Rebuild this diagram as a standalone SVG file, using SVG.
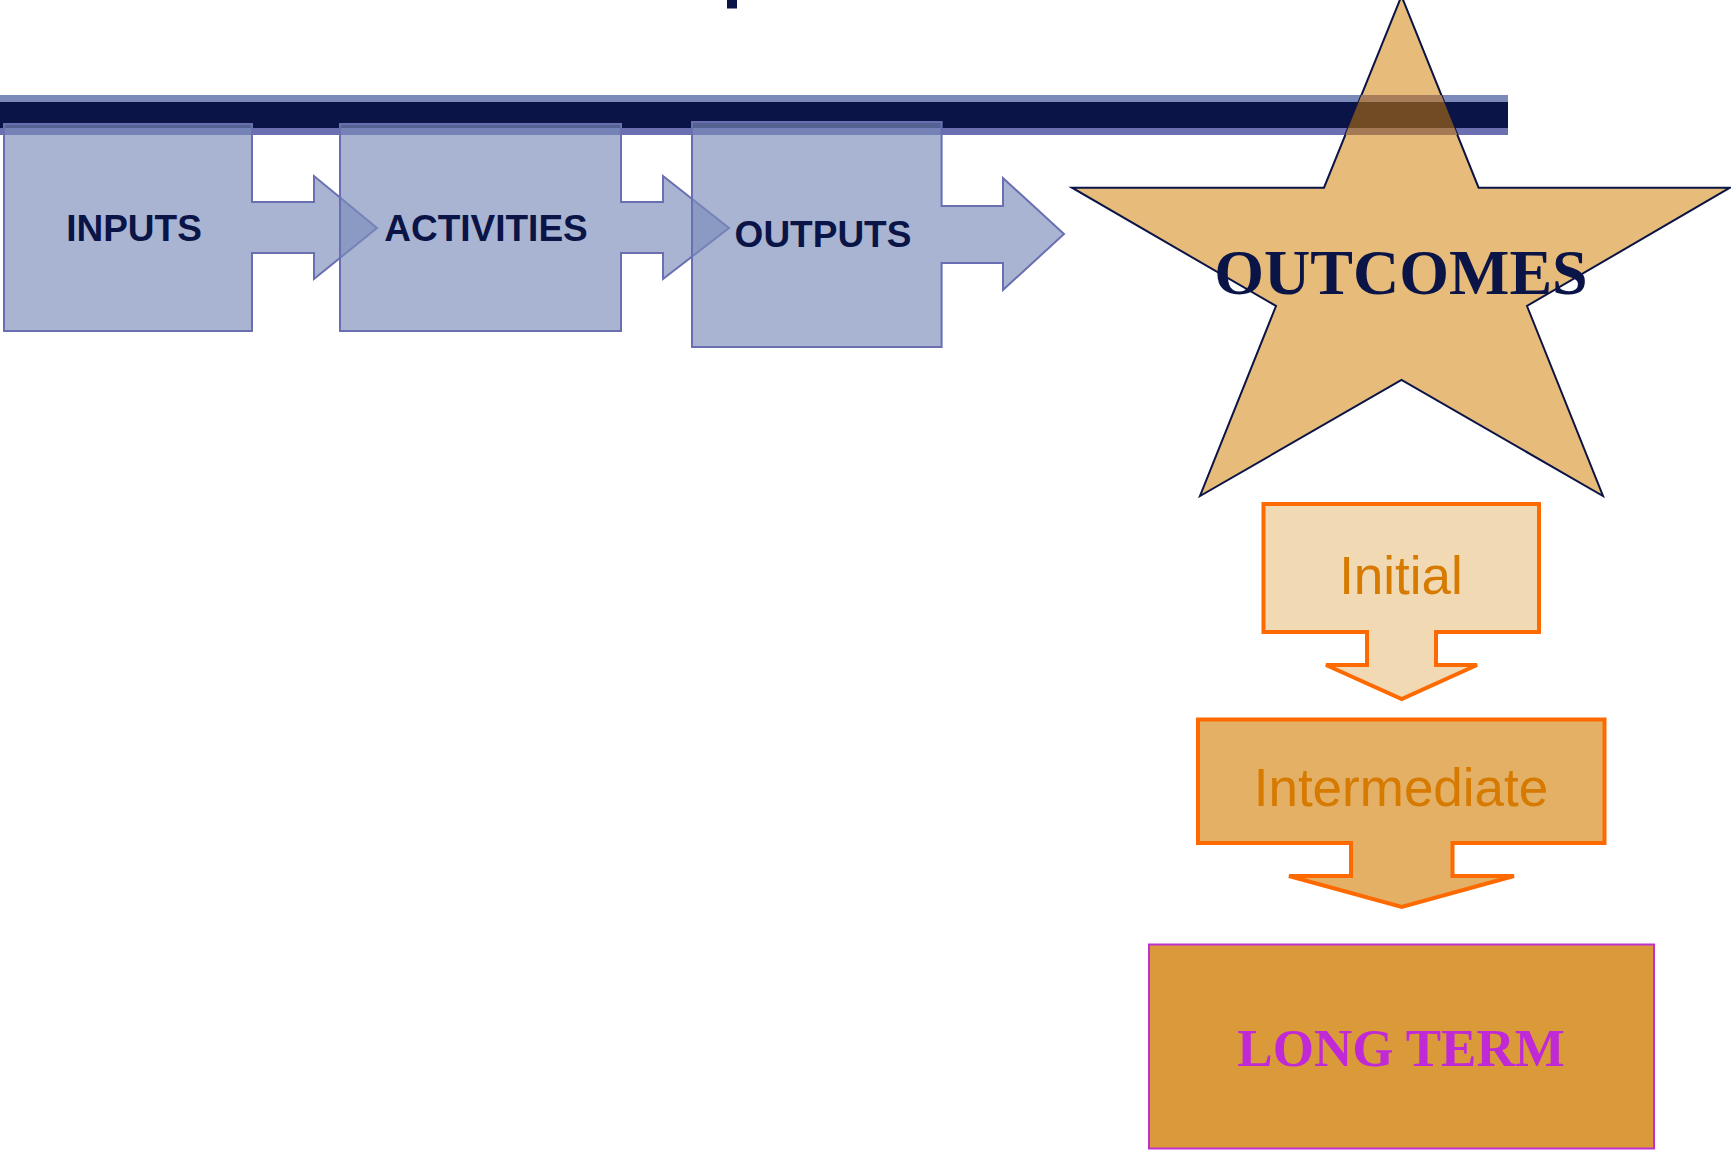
<svg xmlns="http://www.w3.org/2000/svg" width="1731" height="1151" viewBox="0 0 1731 1151">
  <style>
    .flow { fill: #7b8cba; fill-opacity: 0.65; stroke: #6a6fb2; stroke-width: 2; }
    .flow-label { font-family: "Liberation Sans", Arial, sans-serif; font-weight: bold; font-size: 37px; fill: #0a1446; text-anchor: middle; }
    .stage { stroke: #ff6a00; stroke-width: 4; }
    .stage-label { font-family: "Liberation Sans", Arial, sans-serif; font-size: 53px; fill: #d67a00; text-anchor: middle; }
    .serif-label { font-family: "Liberation Serif", "Times New Roman", serif; font-weight: bold; text-anchor: middle; }
  </style>
  <defs>
    <clipPath id="starClip">
      <polygon points="1401.5,-4 1478.6,187.7 1730,187.7 1527,306 1603,496 1401.5,380 1200,496 1276,306 1072,187.7 1324,187.7"/>
    </clipPath>
  </defs>

  <rect width="1731" height="1151" fill="#ffffff"/>

  <!-- fragment of the heading above the frame -->
  <rect x="727" y="0" width="10" height="8.5" fill="#0a1446"/>

  <!-- header band -->
  <g id="band">
    <rect x="0" y="95" width="1508" height="7" fill="#7b8ab8"/>
    <rect x="0" y="102" width="1508" height="26" fill="#0a1446"/>
    <rect x="0" y="128" width="1508" height="7" fill="#6b70b0"/>
  </g>

  <g id="inputs">
    <path class="flow" d="M4,124 H252 V202 H314 V176 L377,228 L314,279 V253 H252 V331 H4 Z"/>
    <text class="flow-label" x="134" y="241">INPUTS</text>
  </g>

  <g id="activities">
    <path class="flow" d="M340,124 H621 V202 H663 V176 L729,228 L663,279 V253 H621 V331 H340 Z"/>
    <text class="flow-label" x="486" y="241">ACTIVITIES</text>
  </g>

  <g id="outputs">
    <path class="flow" d="M692,122 H941.6 V206 H1003 V178 L1064,234 L1003,290 V263 H941.6 V347 H692 Z"/>
    <text class="flow-label" x="823" y="247">OUTPUTS</text>
  </g>

  <g id="outcomes">
    <polygon points="1401.5,-4 1478.6,187.7 1730,187.7 1527,306 1603,496 1401.5,380 1200,496 1276,306 1072,187.7 1324,187.7" fill="#e7bc7b" stroke="#0a1446" stroke-width="2" stroke-linejoin="miter"/>
    <!-- where the star crosses the header band -->
    <g clip-path="url(#starClip)">
      <rect x="1000" y="95" width="600" height="7" fill="#a87e5a"/>
      <rect x="1000" y="102" width="600" height="26" fill="#714b24"/>
      <rect x="1000" y="128" width="600" height="7" fill="#a47a56"/>
    </g>
    <text class="serif-label" x="1401" y="294" font-size="64" fill="#0a1446">OUTCOMES</text>
  </g>

  <g id="initial">
    <path class="stage" fill="#f1d9b3" d="M1263.5,504 H1539 V632 H1436 V665 H1477 L1401.7,699 L1326,665 H1367 V632 H1263.5 Z"/>
    <text class="stage-label" x="1401" y="594">Initial</text>
  </g>

  <g id="intermediate">
    <path class="stage" fill="#e3b066" d="M1198,719.5 H1604.5 V843 H1452.5 V876 H1514 L1401.7,907 L1289,876 H1351 V843 H1198 Z"/>
    <text class="stage-label" x="1401" y="806">Intermediate</text>
  </g>

  <g id="long-term">
    <rect x="1149" y="944.5" width="505" height="204" fill="#db9a3a" stroke="#c030d0" stroke-width="2"/>
    <text class="serif-label" x="1401" y="1066" font-size="53" fill="#c02ad6">LONG TERM</text>
  </g>

  <!-- the flow arrows are part of each node outline -->
  <g id="connectors"/>
</svg>
